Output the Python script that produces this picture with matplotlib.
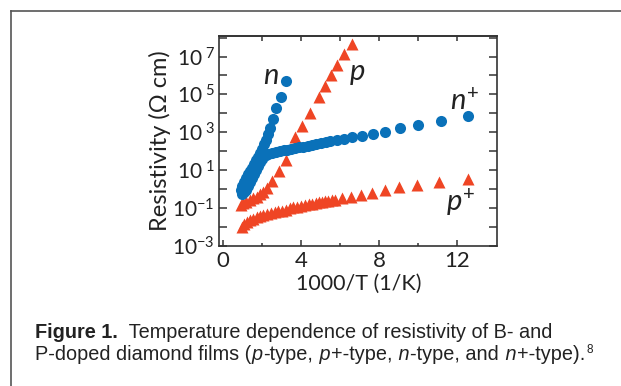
import matplotlib
matplotlib.use('Agg')
import matplotlib.pyplot as plt
from matplotlib.lines import Line2D
from matplotlib.ticker import NullLocator
from matplotlib.transforms import IdentityTransform
import numpy as np

plt.rcParams['font.family'] = 'Lato'
plt.rcParams['mathtext.fontset'] = 'custom'
plt.rcParams['mathtext.rm'] = 'Lato'
plt.rcParams['mathtext.it'] = 'Lato:italic'
plt.rcParams['mathtext.bf'] = 'Lato:bold'

# 1000/T (1/K) and log10 of resistivity (Ohm cm)
p_x = [0.9, 1.05, 1.2, 1.38, 1.55, 1.73, 1.9, 2.07, 2.24, 2.5, 2.87, 3.22,
       3.69, 4.07, 4.46, 4.92, 5.2, 5.54, 5.86, 6.21, 6.63]
p_logr = [-0.88, -0.76, -0.68, -0.59, -0.5, -0.41, -0.28, -0.15, 0.05, 0.4,
          0.95, 1.55, 2.72, 3.3, 4.02, 4.88, 5.42, 6.0, 6.55, 7.14, 7.66]

pp_x = [0.96, 1.1, 1.25, 1.4, 1.55, 1.73, 1.9, 2.07, 2.25, 2.46, 2.65, 2.84,
        3.02, 3.21, 3.41, 3.61, 3.8, 4.0, 4.2, 4.41, 4.58, 4.75, 4.9, 5.06,
        5.23, 5.4, 5.57, 5.74, 6.09, 6.55, 7.05, 7.62, 8.27, 9.0, 9.92, 11.06,
        12.55]
pp_logr = [-2.0, -1.85, -1.75, -1.66, -1.58, -1.49, -1.45, -1.4, -1.33, -1.28,
           -1.23, -1.19, -1.15, -1.11, -1.04, -0.98, -0.94, -0.9, -0.85, -0.81,
           -0.78, -0.76, -0.72, -0.67, -0.66, -0.64, -0.61, -0.59, -0.5, -0.43,
           -0.33, -0.24, -0.07, 0.09, 0.19, 0.37, 0.54]

n_x = [0.9, 1.0, 1.1, 1.2, 1.3, 1.4, 1.5, 1.6, 1.7, 1.8, 1.9, 2.0, 2.1, 2.2,
       2.3, 2.42, 2.56, 2.73, 2.97, 3.22]
n_logr = [-0.05, 0.15, 0.38, 0.58, 0.76, 0.95, 1.12, 1.3, 1.5, 1.7, 1.9, 2.1,
          2.35, 2.6, 2.9, 3.2, 3.67, 4.28, 4.85, 5.7]

nn_x = [1.0, 1.1, 1.2, 1.3, 1.4, 1.5, 1.6, 1.7, 1.8, 1.9, 2.0, 2.1, 2.2, 2.3,
        2.5, 2.7, 2.9, 3.1, 3.3, 3.5, 3.7, 3.9, 4.1, 4.35, 4.55, 4.75, 5.0,
        5.25, 5.5, 5.85, 6.2, 6.6, 7.1, 7.7, 8.3, 9.05, 10.0, 11.15, 12.55]
nn_logr = [-0.25, -0.18, -0.05, 0.15, 0.35, 0.55, 0.78, 1.0, 1.2, 1.42, 1.6,
           1.72, 1.8, 1.84, 1.9, 1.95, 1.99, 2.03, 2.07, 2.1, 2.15, 2.19, 2.22,
           2.27, 2.31, 2.36, 2.42, 2.47, 2.52, 2.58, 2.66, 2.73, 2.81, 2.92,
           3.03, 3.2, 3.39, 3.61, 3.84]

y_exps = list(range(-3, 9))
y_labels = [(r'$10^{%d}$' % k if k < 0 else r'$10^{\ %d}$' % k) if k % 2 else ''
            for k in y_exps]

blue = '#0a71b9'
red = '#ef4524'
dark = '#333333'
txt = '#222222'

fig = plt.figure(figsize=(6.21, 3.86), dpi=100)
ax = fig.add_axes([0.3527, 0.3614, 0.4484, 0.5461])

ax.plot(p_x, 10.0 ** np.array(p_logr), '^', color=red, ms=8.5, mec='none')
ax.plot(pp_x, 10.0 ** np.array(pp_logr), '^', color=red, ms=8.5, mec='none')
ax.plot(n_x, 10.0 ** np.array(n_logr), 'o', color=blue, ms=8, mec='none')
ax.plot(nn_x, 10.0 ** np.array(nn_logr), 'o', color=blue, ms=8, mec='none')

ax.set_yscale('log')
ax.set_xlim(-0.2, 14.05)
ax.set_ylim(10 ** -3.05, 10 ** 8.1)
ax.set_yticks([10.0 ** k for k in y_exps])
ax.set_yticklabels(y_labels)
ax.yaxis.set_minor_locator(NullLocator())
ax.set_xticks([0, 4, 8, 12])
ax.set_xticks([2, 6, 10], minor=True)

for s in ax.spines.values():
    s.set_color(dark)
    s.set_linewidth(1.2)
ax.tick_params(axis='y', which='major', direction='in', length=6, width=1.1,
               right=True, color=dark, labelcolor=txt, labelsize=15, pad=3)
ax.tick_params(axis='x', which='major', direction='in', length=4.5, width=1.1,
               color=dark, labelcolor=txt, labelsize=16, pad=3)
ax.tick_params(axis='x', which='minor', direction='in', length=2, width=1.1,
               color=dark)
top = ax.secondary_xaxis('top')
top.set_xticks([2, 4, 6, 8, 10, 12])
top.tick_params(direction='in', length=3.6, width=1.1, color=dark, labeltop=False)
top.spines['top'].set_color(dark)
top.spines['top'].set_linewidth(1.2)

ax.set_ylabel('Resistivity (\u03a9 cm)', fontsize=17, color=txt, labelpad=1)
ax.set_xlabel('1000/T (1/K)', fontsize=15.5, color=txt, labelpad=2)

ax.text(2.45, 10 ** 5.54, 'n', fontsize=21, style='italic', ha='center',
        va='baseline', color=txt)
ax.text(6.89, 10 ** 5.75, 'p', fontsize=21, style='italic', ha='center',
        va='baseline', color=txt)
ax.text(11.6, 10 ** 4.19, r'$\mathit{n}^{+}$', fontsize=21, ha='left',
        va='baseline', color=txt)
ax.text(11.4, 10 ** -1.19, r'$\mathit{p}^{+}$', fontsize=21, ha='left',
        va='baseline', color=txt)

# outer frame (left and top edges only)
fig.add_artist(Line2D([10.5 / 621, 10.5 / 621], [0, 1 - 10.5 / 386],
                      color='#555555', lw=1.2))
fig.add_artist(Line2D([10.5 / 621, 1], [1 - 10.5 / 386, 1 - 10.5 / 386],
                      color='#555555', lw=1.2))

# caption, drawn piece by piece so bold/italic can be mixed
renderer = fig.canvas.get_renderer()


def caption_line(pieces, x, y):
    for s, kw in pieces:
        t = fig.text(x, y, s, transform=IdentityTransform(), va='baseline',
                     family='Liberation Sans', fontsize=14.3, color=txt, **kw)
        x = t.get_window_extent(renderer).x1 + 0.6
    return x


caption_line([('Figure 1.', {'weight': 'bold'}),
              ('  Temperature dependence of resistivity of B- and', {})], 35, 48)
end = caption_line([('P-doped diamond films (', {}), ('p', {'style': 'italic'}),
                    ('-type,', {}), (' p', {'style': 'italic'}),
                    ('+-type,', {}), (' n', {'style': 'italic'}),
                    ('-type, and', {}), (' n', {'style': 'italic'}),
                    ('+-type).', {})], 35, 26)
fig.text(end + 1, 33, '8', transform=IdentityTransform(), va='baseline',
         family='Liberation Sans', fontsize=8.5, color=txt)

fig.savefig('out.png', dpi=100)
